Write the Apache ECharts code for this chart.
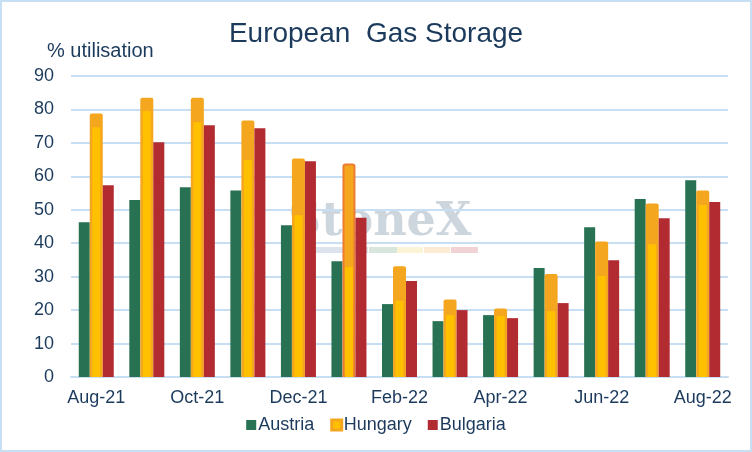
<!DOCTYPE html>
<html style="height: 100%">

<head>
    <meta charset="utf-8">
</head>

<body style="height: 100%; margin: 0; background: #fff">
    <div id="container" style="width: 752px; height: 452px"></div>
    <script src="https://cdn.jsdelivr.net/npm/echarts@6/dist/echarts.min.js"></script>
    <script type="text/javascript">
        var months = ['Aug-21', 'Sep-21', 'Oct-21', 'Nov-21', 'Dec-21', 'Jan-22', 'Feb-22',
            'Mar-22', 'Apr-22', 'May-22', 'Jun-22', 'Jul-22', 'Aug-22'];
        var austria = [46.3, 52.9, 56.7, 55.8, 45.4, 34.6, 21.8, 16.7, 18.5, 32.6, 44.8, 53.2, 58.8];
        var hungary = [78.8, 83.5, 83.5, 76.7, 65.3, 63.8, 33.1, 23.2, 20.5, 30.8, 40.5, 51.9, 55.8];
        // lighter inner part of the Hungary bars
        var hungaryInner = [74.7, 79.5, 76.2, 64.8, 48.4, 32.9, 22.8, 18.5, 18.2, 19.7, 30.2, 39.7, 51.4];
        var bulgaria = [57.3, 70.2, 75.3, 74.4, 64.5, 47.6, 28.7, 20.0, 17.6, 22.1, 34.9, 47.5, 52.3];
        var yTicks = [0, 10, 20, 30, 40, 50, 60, 70, 80, 90];

        var font = 'Liberation Sans';
        var navy = '#1B3A5C';
        var grid = '#C7DEF3';

        var dom = document.getElementById("container");
        var myChart = echarts.init(dom);

        var hungaryData = hungary.map(function (v, i) {
            if (months[i] == 'Jan-22') {
                return { value: v, itemStyle: { borderColor: '#EC7C30', borderWidth: 2 } };
            }
            return v;
        });

        var option = {
            animation: false,
            textStyle: { fontFamily: font },
            title: [{
                text: 'European  Gas Storage',
                left: 'center',
                top: 15,
                textStyle: { fontFamily: font, fontSize: 28, fontWeight: 'normal', color: navy }
            }, {
                text: '% utilisation',
                left: 42,
                top: 36,
                textStyle: { fontFamily: font, fontSize: 20, fontWeight: 'normal', color: navy }
            }],
            graphic: [{
                type: 'rect',
                silent: true,
                z: -10,
                shape: { x: 1, y: 1, width: 750, height: 450 },
                style: { fill: 'none', stroke: grid, lineWidth: 2 }
            }, {
                type: 'text',
                silent: true,
                z: -5,
                left: 288,
                top: 200,
                style: { text: 'StoneX', font: 'bold 46px "DejaVu Serif"', fill: '#CDD5DD' }
            }, {
                type: 'group',
                silent: true,
                z: -5,
                children: [
                    { type: 'rect', shape: { x: 315, y: 247, width: 53, height: 6 }, style: { fill: '#DCE3EC' } },
                    { type: 'rect', shape: { x: 369, y: 247, width: 28, height: 6 }, style: { fill: '#D9E6DE' } },
                    { type: 'rect', shape: { x: 397, y: 247, width: 26, height: 6 }, style: { fill: '#FBF3D6' } },
                    { type: 'rect', shape: { x: 424, y: 247, width: 26, height: 6 }, style: { fill: '#FCEBD2' } },
                    { type: 'rect', shape: { x: 451, y: 247, width: 27, height: 6 }, style: { fill: '#F1D3D5' } }
                ]
            }],
            legend: {
                data: [
                    { name: 'Austria' },
                    { name: 'Hungary', itemStyle: { color: '#FFC000', borderColor: '#F5A61F', borderWidth: 3 } },
                    { name: 'Bulgaria' }
                ],
                left: 'center',
                top: 411,
                icon: 'rect',
                itemWidth: 10,
                itemHeight: 10,
                itemGap: 16,
                textStyle: { fontFamily: font, fontSize: 18, color: navy, padding: [0, 0, 0, -3] }
            },
            grid: { left: 71, right: 24, top: 76, bottom: 75 },
            xAxis: [{
                type: 'category',
                data: months,
                axisLine: { lineStyle: { color: grid, width: 2 } },
                axisTick: { interval: 1, length: 5, lineStyle: { color: grid, width: 2 } },
                axisLabel: { interval: 1, margin: 12, fontSize: 18, color: navy, fontFamily: font }
            }, {
                type: 'category',
                data: months,
                show: false
            }],
            yAxis: {
                type: 'value',
                min: yTicks[0],
                max: yTicks[yTicks.length - 1],
                interval: 10,
                axisLine: { show: false },
                axisTick: { show: false },
                axisLabel: { margin: 17, fontSize: 18, color: navy, fontFamily: font },
                splitLine: { lineStyle: { color: grid, width: 2 } }
            },
            series: [
                {
                    name: 'Austria',
                    type: 'bar',
                    data: austria,
                    barWidth: 11,
                    barGap: '0%',
                    itemStyle: { color: '#287152' }
                },
                {
                    name: 'Hungary',
                    type: 'bar',
                    data: hungaryData,
                    barWidth: 13,
                    itemStyle: { color: '#F5A61F', borderRadius: [2, 2, 0, 0] }
                },
                {
                    name: 'Bulgaria',
                    type: 'bar',
                    data: bulgaria,
                    barWidth: 11,
                    itemStyle: { color: '#B22B31' }
                },
                {
                    name: 'Hungary inner',
                    type: 'bar',
                    xAxisIndex: 1,
                    data: hungaryInner,
                    barWidth: 8,
                    z: 3,
                    itemStyle: { color: '#FFC000' }
                }
            ]
        };

        if (option && typeof option === "object") {
            myChart.setOption(option, true);
        }
    </script>
</body>

</html>
